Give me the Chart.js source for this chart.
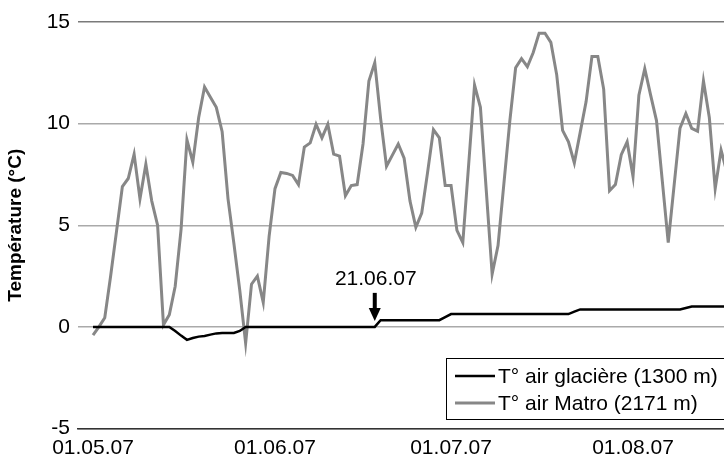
<!DOCTYPE html>
<html>
<head>
<meta charset="utf-8">
<script src="https://cdn.jsdelivr.net/npm/chart.js@4"></script>
<style>
  body { margin: 0; background: #fff; }
  #wrap { width: 724px; height: 463px; }
</style>
</head>
<body>
<div id="wrap"><canvas id="tempChart"></canvas></div>
<script>
// x = jour depuis le 01.05.07
const tickDays = [0, 31, 61, 92];
const tickLabels = ['01.05.07', '01.06.07', '01.07.07', '01.08.07'];

const markDay = 48;
const markLabel = '21.06.07';

const glaciere = [
    0, 0, 0, 0, 0, 0, 0, 0, 0, 0,
    0, 0, 0, 0, -0.2, -0.43, -0.64, -0.55, -0.48, -0.45,
    -0.38, -0.32, -0.3, -0.3, -0.3, -0.2, 0, 0, 0, 0,
    0, 0, 0, 0, 0, 0, 0, 0, 0, 0,
    0, 0, 0, 0, 0, 0, 0, 0, 0, 0.33,
    0.33, 0.33, 0.33, 0.33, 0.33, 0.33, 0.33, 0.33, 0.33, 0.33,
    0.48, 0.63, 0.63, 0.63, 0.63, 0.63, 0.63, 0.63, 0.63, 0.63,
    0.63, 0.63, 0.63, 0.63, 0.63, 0.63, 0.63, 0.63, 0.63, 0.63,
    0.63, 0.63, 0.75, 0.86, 0.86, 0.86, 0.86, 0.86, 0.86, 0.86,
    0.86, 0.86, 0.86, 0.86, 0.86, 0.86, 0.86, 0.86, 0.86, 0.86,
    0.86, 0.93, 1.0, 1.0, 1.0, 1.0, 1.0, 1.0, 1.0
];

const matro = [
    -0.4, 0.0, 0.45, 2.5, 4.7, 6.9, 7.3, 8.5, 6.3, 8.0,
    6.2, 5.0, 0.1, 0.6, 2.0, 4.8, 9.2, 8.1, 10.3, 11.8,
    11.3, 10.8, 9.6, 6.3, 4.1, 1.8, -0.8, 2.1, 2.5, 1.2,
    4.45, 6.8, 7.6, 7.55, 7.45, 7.0, 8.85, 9.05, 9.97, 9.3,
    9.97, 8.5, 8.4, 6.45, 6.95, 7.0, 9.0, 12.1, 13.0, 10.25,
    7.9, 8.45, 9.0, 8.3, 6.2, 4.9, 5.6, 7.6, 9.7, 9.3,
    6.95, 6.95, 4.75, 4.15, 8.0, 11.9, 10.8, 6.7, 2.6, 4.0,
    7.05, 10.1, 12.75, 13.2, 12.8, 13.5, 14.45, 14.45, 14.0, 12.4,
    9.67, 9.1, 8.07, 9.57, 11.07, 13.3, 13.3, 11.7, 6.7, 7.0,
    8.47, 9.1, 7.4, 11.4, 12.7, 11.4, 10.15, 7.15, 4.15, 6.96,
    9.77, 10.5, 9.77, 9.63, 12.1, 10.3, 6.8, 8.7, 7.6
];

const toPoints = arr => arr.map((v, i) => ({x: i, y: v}));

const FONT = '"Liberation Sans", Arial, sans-serif';

// légende dessinée dans la zone du graphique
const boxLegend = {
    id: 'boxLegend',
    afterDraw(chart) {
        const {ctx} = chart;
        ctx.save();
        ctx.fillStyle = '#fff';
        ctx.strokeStyle = '#000';
        ctx.lineWidth = 1;
        ctx.fillRect(446.5, 358.5, 300, 61);
        ctx.strokeRect(446.5, 358.5, 300, 61);
        ctx.font = '21px ' + FONT;
        ctx.textBaseline = 'middle';
        chart.data.datasets.forEach((ds, i) => {
            const y = 376 + i * 27;
            ctx.strokeStyle = ds.borderColor;
            ctx.lineWidth = ds.borderWidth;
            ctx.beginPath();
            ctx.moveTo(455, y);
            ctx.lineTo(495, y);
            ctx.stroke();
            ctx.fillStyle = '#000';
            ctx.fillText(ds.label, 498, y + 1);
        });
        ctx.restore();
    }
};

// flèche + date
const markArrow = {
    id: 'markArrow',
    afterDatasetsDraw(chart) {
        const {ctx, scales: {x, y}} = chart;
        const px = x.getPixelForValue(markDay);
        const py = y.getPixelForValue(glaciere[markDay]);
        ctx.save();
        ctx.fillStyle = '#000';
        ctx.font = '21px ' + FONT;
        ctx.textAlign = 'center';
        ctx.textBaseline = 'middle';
        ctx.fillText(markLabel, px + 1, py - 48);
        ctx.fillRect(px - 2, py - 34, 4, 16);
        ctx.beginPath();
        ctx.moveTo(px - 6, py - 19);
        ctx.lineTo(px + 6, py - 19);
        ctx.lineTo(px, py - 6);
        ctx.closePath();
        ctx.fill();
        ctx.restore();
    }
};

new Chart(document.getElementById('tempChart'), {
    type: 'line',
    data: {
        datasets: [
            {
                label: 'T° air glacière (1300 m)',
                data: toPoints(glaciere),
                borderColor: '#000',
                borderWidth: 2.5,
                pointRadius: 0,
                tension: 0,
                fill: false
            },
            {
                label: 'T° air Matro (2171 m)',
                data: toPoints(matro),
                borderColor: '#878787',
                borderWidth: 3,
                pointRadius: 0,
                tension: 0,
                fill: false
            }
        ]
    },
    options: {
        responsive: true,
        maintainAspectRatio: false,
        devicePixelRatio: 1,
        animation: false,
        layout: {
            padding: {top: 22, left: 0, right: 0, bottom: 0}
        },
        plugins: {
            legend: {display: false},
            tooltip: {enabled: false}
        },
        scales: {
            x: {
                type: 'linear',
                min: -2.56,
                max: 107.5,
                afterBuildTicks: scale => {
                    scale.ticks = tickDays.map(d => ({value: d}));
                },
                afterFit: scale => { scale.height = 34.5; },
                grid: {display: false, drawTicks: false},
                border: {display: true, color: '#333', width: 1.5},
                ticks: {
                    padding: 7,
                    maxRotation: 0,
                    autoSkip: false,
                    color: '#000',
                    font: {size: 21, family: FONT},
                    callback: (v) => tickLabels[tickDays.indexOf(v)]
                }
            },
            y: {
                min: -5,
                max: 15,
                afterFit: scale => { scale.width = 78; },
                border: {display: false},
                grid: {
                    drawTicks: false,
                    lineWidth: 1.5,
                    color: c => c.tick.value === 15 ? '#7a7a7a' : '#aaaaaa'
                },
                title: {
                    display: true,
                    text: 'Température (°C)',
                    color: '#000',
                    padding: {top: 4, bottom: 6},
                    font: {size: 19, weight: 'bold', family: FONT}
                },
                ticks: {
                    stepSize: 5,
                    padding: 8,
                    color: '#000',
                    font: {size: 21, family: FONT}
                }
            }
        }
    },
    plugins: [boxLegend, markArrow]
});
</script>
</body>
</html>
